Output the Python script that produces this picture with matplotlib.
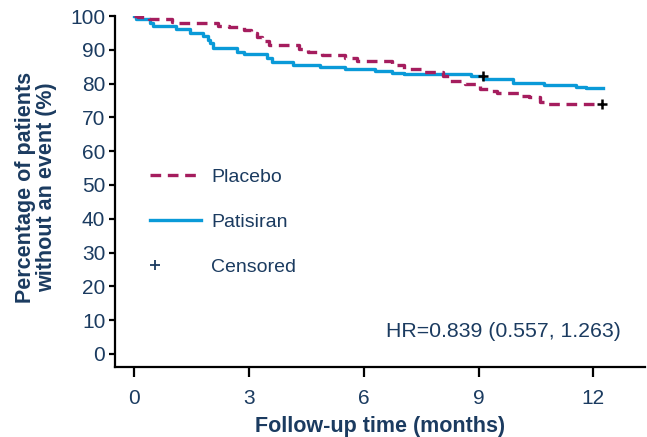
import numpy as np
import matplotlib
matplotlib.use('Agg')
import matplotlib.pyplot as plt
from matplotlib.lines import Line2D
from matplotlib.legend_handler import HandlerLine2D

plt.rcParams['font.family'] = ['Liberation Sans', 'DejaVu Sans']

# Kaplan-Meier steps (months, % without event)
patisiran_t = [0, 0.05, 0.42, 0.5, 1.1, 1.46, 1.8, 1.92, 1.98, 2.07, 2.7, 2.88, 3.48, 3.6,
               4.15, 4.86, 5.5, 6.3, 6.75, 7.06, 8.8, 9.12, 9.9, 10.72, 11.55, 11.8, 12.25]
patisiran_s = [100, 99.1, 98.0, 97.1, 96.2, 94.9, 94.1, 92.9, 91.9, 90.4, 89.4, 88.8, 87.7, 86.5,
               85.5, 84.8, 84.3, 83.8, 83.2, 82.7, 82.3, 81.3, 80.3, 79.6, 78.9, 78.6, 78.6]

placebo_t = [0, 0.1, 0.4, 1.0, 1.18, 2.2, 2.48, 2.88, 3.05, 3.2, 3.35, 3.52, 4.3, 4.55, 4.92,
             5.5, 5.82, 6.74, 7.05, 7.54, 8.06, 8.22, 8.65, 9.05, 9.3, 9.48, 10.1, 10.33,
             10.6, 10.8, 12.22]
placebo_s = [100, 99.6, 99.1, 98.3, 97.8, 97.1, 96.6, 95.9, 94.9, 93.9, 92.6, 91.4, 90.2, 89.4, 88.5,
             87.5, 86.8, 85.5, 84.2, 83.5, 82.2, 80.9, 79.9, 78.3, 77.9, 77.1, 76.4, 75.9,
             74.6, 73.9, 73.9]

censor_t = [9.12, 12.22]
censor_s = [82.3, 73.9]

x_ticks = [0, 3, 6, 9, 12]
y_ticks = list(range(0, 101, 10))

NAVY = '#1b3b60'
BLUE = '#0a9ad8'
MAGENTA = '#a51d5e'


class LeftMarker(HandlerLine2D):
    # put the single legend marker near the left end of the handle
    def get_xdata(self, legend, xdescent, ydescent, width, height, fontsize):
        x = -xdescent + 0.1 * width
        return np.array([x, x]), np.array([x])


fig = plt.figure(figsize=(6.47, 4.37), dpi=100)
ax = fig.add_axes([115 / 647, 1 - 366.5 / 437, (645 - 115) / 647, (366.5 - 16) / 437])

ax.plot(patisiran_t, patisiran_s, drawstyle='steps-post', color=BLUE, lw=2.4, zorder=3)
ax.plot(placebo_t, placebo_s, drawstyle='steps-post', color=MAGENTA, lw=2.4,
        dashes=(3.2, 2.0), zorder=4)
ax.plot(censor_t, censor_s, ls='none', marker='+', color='black', ms=7.5, mew=1.8, zorder=5)

ax.set_xlim(-0.5, 13.35)
ax.set_ylim(-3.7, 100)
ax.set_xticks(x_ticks)
ax.set_yticks(y_ticks)
for s in ['top', 'right']:
    ax.spines[s].set_visible(False)
for s in ['left', 'bottom']:
    ax.spines[s].set_linewidth(1.6)
ax.tick_params(axis='both', colors='black', labelcolor=NAVY, labelsize=15, width=1.6)
ax.tick_params(axis='y', length=4.5, pad=2.5)
ax.tick_params(axis='x', length=7, pad=9)

ax.set_xlabel('Follow-up time (months)', fontsize=15.5, fontweight='bold', color=NAVY, labelpad=6)
fig.text(36 / 647, 1 - 187 / 437, 'Percentage of patients\nwithout an event (%)', rotation=90,
         ha='center', va='center', fontsize=15.5, fontweight='bold', color=NAVY,
         multialignment='center', linespacing=1.0)

ax.text(0.955, 0.1, 'HR=0.839 (0.557, 1.263)', transform=ax.transAxes, ha='right',
        va='center', fontsize=15.3, color=NAVY)

h_plac = Line2D([], [], color=MAGENTA, lw=2.4, dashes=(3.2, 2.0))
h_pat = Line2D([], [], color=BLUE, lw=2.4)
h_cens = Line2D([], [], ls='none', marker='+', color=NAVY, ms=7, mew=1.3)
leg = ax.legend([h_plac, h_pat, h_cens], ['Placebo', 'Patisiran', 'Censored'],
                loc='upper left', bbox_to_anchor=(0.066, 0.565), frameon=False, fontsize=14,
                handlelength=2.6, handletextpad=0.55, labelspacing=1.4, borderpad=0,
                borderaxespad=0, handler_map={h_cens: LeftMarker()})
for t in leg.get_texts():
    t.set_color(NAVY)

fig.savefig('out.png', dpi=100)
